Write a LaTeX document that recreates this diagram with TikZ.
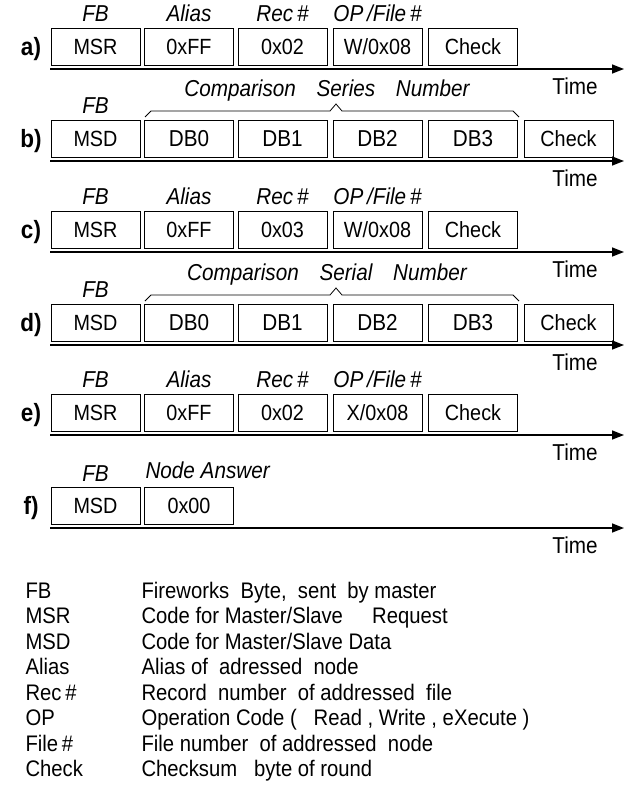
\documentclass[tikz,border=0pt]{standalone}
\usepackage{fontspec}
\setmainfont{Liberation Sans}
\newfontfamily\nar{Liberation Sans}[FakeStretch=0.9]
\usetikzlibrary{arrows.meta}
\begin{document}
\begin{tikzpicture}[x=1pt,y=-1pt,
  bx/.style={draw,line width=0.8pt,minimum width=89pt,minimum height=37pt,inner sep=0pt,text height=15.5pt,text depth=0pt,font=\nar\fontsize{22}{22}\selectfont},
  dbx/.style={bx,font=\nar\fontsize{23}{24}\selectfont},
  hdr/.style={anchor=base,font=\nar\fontsize{23}{22}\selectfont\itshape},
  lbl/.style={anchor=base,font=\nar\fontsize{25}{24}\selectfont\bfseries},
  timeline/.style={-{Triangle[length=12pt,width=9pt]},line width=1.5pt},
  tm/.style={anchor=base,font=\nar\fontsize{23}{22}\selectfont},
  brc/.style={line width=0.8pt,line join=miter},
  leg/.style={anchor=base west,font=\nar\fontsize{22.5}{22}\selectfont}]
\useasboundingbox (0,0) rectangle (629,795);

% ---------- row a ----------
\node[lbl] (la) at (31,55) {a)};
\node[hdr] (ha1) at (95.5,21) {FB};
\node[hdr] (ha2) at (189,21) {Alias};
\node[hdr] (ha3) at (282.5,21) {Rec\,\#};
\node[hdr] (ha4) at (377.5,21) {OP\,/File\,\#};
\node[bx] (a1) at (95.5,46.5) {MSR};
\node[bx] (a2) at (189,46.5) {0xFF};
\node[bx] (a3) at (282.5,46.5) {0x02};
\node[bx] (a4) at (377.5,46.5) {W/0x08};
\node[bx] (a5) at (473,46.5) {Check};
\coordinate (as) at (50,69); \coordinate (ae) at (624,69);
\draw[timeline] (as) -- (ae);
\node[tm] (ta) at (575,94) {Time};

% ---------- row b ----------
\node[lbl] (lb) at (31,147) {b)};
\node[hdr] (hb1) at (95.5,113) {FB};
\node[hdr] (hb2) at (327,96) {Comparison\hspace{0.9em}Series\hspace{0.9em}Number};
\draw[brc] (145,117) -- (151,111) -- (330,111) -- (336,104) -- (342,111) -- (513,111) -- (519,117);
\node[bx] (b1) at (95.5,138.5) {MSD};
\node[dbx] (b2) at (189,138.5) {DB0};
\node[dbx] (b3) at (282.5,138.5) {DB1};
\node[dbx] (b4) at (377.5,138.5) {DB2};
\node[dbx] (b5) at (473,138.5) {DB3};
\node[bx] (b6) at (568.5,138.5) {Check};
\coordinate (bs) at (50,161); \coordinate (be) at (624,161);
\draw[timeline] (bs) -- (be);
\node[tm] (tb) at (575,186) {Time};

% ---------- row c ----------
\node[lbl] (lc) at (31,238) {c)};
\node[hdr] (hc1) at (95.5,204) {FB};
\node[hdr] (hc2) at (189,204) {Alias};
\node[hdr] (hc3) at (282.5,204) {Rec\,\#};
\node[hdr] (hc4) at (377.5,204) {OP\,/File\,\#};
\node[bx] (c1) at (95.5,229.5) {MSR};
\node[bx] (c2) at (189,229.5) {0xFF};
\node[bx] (c3) at (282.5,229.5) {0x03};
\node[bx] (c4) at (377.5,229.5) {W/0x08};
\node[bx] (c5) at (473,229.5) {Check};
\coordinate (cs) at (50,252); \coordinate (ce) at (624,252);
\draw[timeline] (cs) -- (ce);
\node[tm] (tc) at (575,277) {Time};

% ---------- row d ----------
\node[lbl] (ld) at (31,331) {d)};
\node[hdr] (hd1) at (95.5,297) {FB};
\node[hdr] (hd2) at (327,280) {Comparison\hspace{0.9em}Serial\hspace{0.9em}Number};
\draw[brc] (145,301) -- (151,295) -- (330,295) -- (336,288) -- (342,295) -- (513,295) -- (519,301);
\node[bx] (d1) at (95.5,322.5) {MSD};
\node[dbx] (d2) at (189,322.5) {DB0};
\node[dbx] (d3) at (282.5,322.5) {DB1};
\node[dbx] (d4) at (377.5,322.5) {DB2};
\node[dbx] (d5) at (473,322.5) {DB3};
\node[bx] (d6) at (568.5,322.5) {Check};
\coordinate (ds) at (50,345); \coordinate (de) at (624,345);
\draw[timeline] (ds) -- (de);
\node[tm] (td) at (575,370) {Time};

% ---------- row e ----------
\node[lbl] (le) at (31,421) {e)};
\node[hdr] (he1) at (95.5,387) {FB};
\node[hdr] (he2) at (189,387) {Alias};
\node[hdr] (he3) at (282.5,387) {Rec\,\#};
\node[hdr] (he4) at (377.5,387) {OP\,/File\,\#};
\node[bx] (e1) at (95.5,412.5) {MSR};
\node[bx] (e2) at (189,412.5) {0xFF};
\node[bx] (e3) at (282.5,412.5) {0x02};
\node[bx] (e4) at (377.5,412.5) {X/0x08};
\node[bx] (e5) at (473,412.5) {Check};
\coordinate (es) at (50,435); \coordinate (ee) at (624,435);
\draw[timeline] (es) -- (ee);
\node[tm] (te) at (575,460) {Time};

% ---------- row f ----------
\node[lbl] (lf) at (31,514) {f)};
\node[hdr] (hf1) at (95.5,481) {FB};
\node[hdr,anchor=base west] (hf2) at (142,478) {Node Answer};
\node[bx] (f1) at (95.5,505.5) {MSD};
\node[bx] (f2) at (189,505.5) {0x00};
\coordinate (fs) at (50,528); \coordinate (fe) at (624,528);
\draw[timeline] (fs) -- (fe);
\node[tm] (tf) at (575,553) {Time};

% ---------- legend ----------
\node[leg] (k1) at (22,598) {FB};
\node[leg] (v1) at (138,598) {Fireworks\ \ Byte,\ \ sent\ \ by master};
\node[leg] (k2) at (22,623.5) {MSR};
\node[leg] (v2) at (138,623.5) {Code for Master/Slave\hspace{1.3em}Request};
\node[leg] (k3) at (22,649) {MSD};
\node[leg] (v3) at (138,649) {Code for Master/Slave Data};
\node[leg] (k4) at (22,674.5) {Alias};
\node[leg] (v4) at (138,674.5) {Alias of\ \ adressed\ \ node};
\node[leg] (k5) at (22,700) {Rec\,\#};
\node[leg] (v5) at (138,700) {Record\ \ number\ \ of addressed\ \ file};
\node[leg] (k6) at (22,725.5) {OP};
\node[leg] (v6) at (138,725.5) {Operation Code (\ \ \ Read , Write , eXecute )};
\node[leg] (k7) at (22,751) {File\,\#};
\node[leg] (v7) at (138,751) {File number\ \ of addressed\ \ node};
\node[leg] (k8) at (22,776.5) {Check};
\node[leg] (v8) at (138,776.5) {Checksum\ \ \ byte\ of round};
\end{tikzpicture}
\end{document}
